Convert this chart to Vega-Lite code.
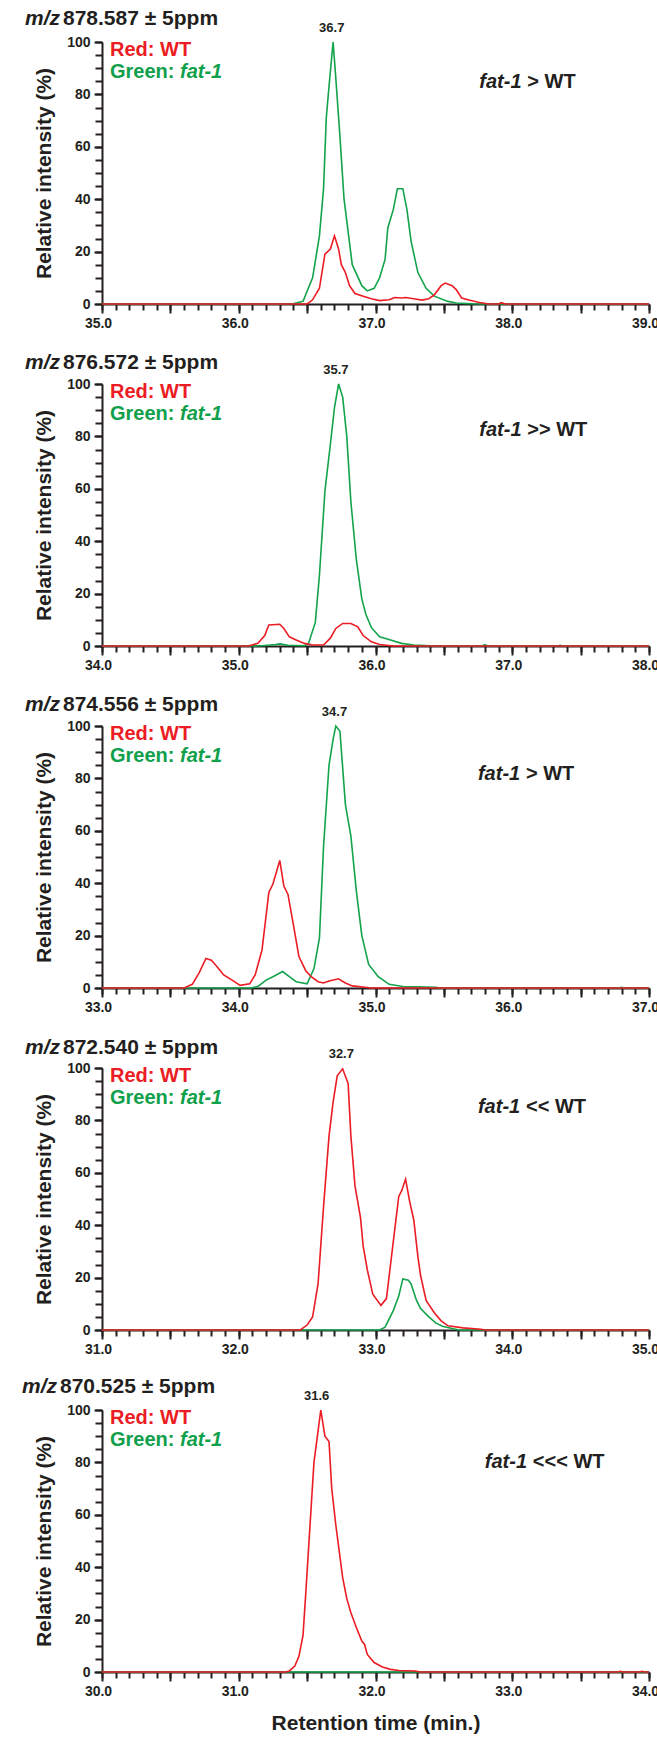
{
  "$schema": "https://vega.github.io/schema/vega-lite/v6.json",
  "padding": {"left": 22, "top": 8, "right": 0, "bottom": 5},
  "background": "white",
  "spacing": 80,
  "bounds": "flush",
  "config": {
    "view": {"stroke": null},
    "text": {"font": "Liberation Sans", "fontWeight": "bold", "fontSize": 20, "baseline": "alphabetic", "align": "left", "color": "#231f20"},
    "axis": {"grid": false, "labelFont": "Liberation Sans", "labelFontWeight": "bold", "labelFontSize": 14, "labelColor": "#231f20", "tickColor": "#231f20", "tickWidth": 2, "domainColor": "#231f20", "domainWidth": 2, "labelOverlap": false, "labelFlush": false, "labelPadding": 3, "titleFont": "Liberation Sans", "titleFontWeight": "bold", "titleFontSize": 21, "titleColor": "#231f20"}
  },
  "datasets": {
    "p1g": [{"rt":35.0,"i":0},{"rt":36.39,"i":0},{"rt":36.47,"i":1},{"rt":36.54,"i":10},{"rt":36.59,"i":26},{"rt":36.62,"i":44},{"rt":36.64,"i":71},{"rt":36.66,"i":83},{"rt":36.69,"i":100},{"rt":36.71,"i":86},{"rt":36.74,"i":64},{"rt":36.77,"i":40},{"rt":36.83,"i":15},{"rt":36.9,"i":7},{"rt":36.94,"i":5},{"rt":36.99,"i":6},{"rt":37.03,"i":10},{"rt":37.07,"i":17},{"rt":37.09,"i":29},{"rt":37.13,"i":36},{"rt":37.16,"i":44},{"rt":37.2,"i":44},{"rt":37.23,"i":36},{"rt":37.26,"i":24},{"rt":37.31,"i":12},{"rt":37.37,"i":6},{"rt":37.43,"i":3},{"rt":37.53,"i":1},{"rt":37.59,"i":0.4},{"rt":37.71,"i":0.1},{"rt":37.8,"i":0},{"rt":39.0,"i":0}],
    "p1r": [{"rt":35.0,"i":0},{"rt":36.5,"i":0},{"rt":36.54,"i":1.6},{"rt":36.59,"i":6},{"rt":36.63,"i":19},{"rt":36.67,"i":21},{"rt":36.7,"i":26},{"rt":36.73,"i":21},{"rt":36.75,"i":15},{"rt":36.78,"i":12},{"rt":36.81,"i":7},{"rt":36.85,"i":4},{"rt":36.91,"i":3},{"rt":36.97,"i":2},{"rt":37.03,"i":1.3},{"rt":37.1,"i":1.6},{"rt":37.14,"i":2.5},{"rt":37.19,"i":2.3},{"rt":37.22,"i":2.5},{"rt":37.28,"i":2},{"rt":37.34,"i":1.5},{"rt":37.39,"i":2},{"rt":37.43,"i":3.5},{"rt":37.48,"i":7},{"rt":37.51,"i":8},{"rt":37.56,"i":7},{"rt":37.59,"i":5.5},{"rt":37.63,"i":2.3},{"rt":37.69,"i":1.4},{"rt":37.76,"i":0.6},{"rt":37.83,"i":0},{"rt":37.9,"i":0},{"rt":37.92,"i":0.5},{"rt":37.95,"i":0},{"rt":39.0,"i":0}],
    "p2g": [{"rt":34.0,"i":0},{"rt":35.07,"i":0},{"rt":35.17,"i":0.1},{"rt":35.27,"i":0.6},{"rt":35.3,"i":0.8},{"rt":35.36,"i":0.3},{"rt":35.48,"i":0.1},{"rt":35.51,"i":1},{"rt":35.56,"i":9},{"rt":35.59,"i":27},{"rt":35.63,"i":59},{"rt":35.67,"i":77},{"rt":35.7,"i":91},{"rt":35.73,"i":100},{"rt":35.76,"i":95},{"rt":35.79,"i":80},{"rt":35.82,"i":55},{"rt":35.86,"i":33},{"rt":35.9,"i":18},{"rt":35.93,"i":12},{"rt":35.97,"i":7},{"rt":36.03,"i":3.5},{"rt":36.11,"i":2.3},{"rt":36.19,"i":1},{"rt":36.28,"i":0.4},{"rt":36.4,"i":0.1},{"rt":36.43,"i":0},{"rt":36.78,"i":0},{"rt":36.8,"i":0.5},{"rt":36.82,"i":0},{"rt":37.33,"i":0},{"rt":37.35,"i":0.3},{"rt":37.37,"i":0},{"rt":38.0,"i":0}],
    "p2r": [{"rt":34.0,"i":0},{"rt":35.07,"i":0},{"rt":35.14,"i":1},{"rt":35.19,"i":4},{"rt":35.22,"i":8},{"rt":35.3,"i":8.3},{"rt":35.33,"i":6.7},{"rt":35.37,"i":3.5},{"rt":35.42,"i":2.3},{"rt":35.48,"i":1},{"rt":35.54,"i":0.4},{"rt":35.62,"i":0.4},{"rt":35.67,"i":3},{"rt":35.71,"i":6.7},{"rt":35.76,"i":8.6},{"rt":35.82,"i":8.6},{"rt":35.87,"i":7.3},{"rt":35.91,"i":4},{"rt":35.97,"i":1.6},{"rt":36.03,"i":0.6},{"rt":36.13,"i":0},{"rt":38.0,"i":0}],
    "p3g": [{"rt":33.0,"i":0},{"rt":34.09,"i":0},{"rt":34.14,"i":0.6},{"rt":34.2,"i":3},{"rt":34.25,"i":4.3},{"rt":34.32,"i":6.3},{"rt":34.37,"i":4.3},{"rt":34.42,"i":2.4},{"rt":34.5,"i":1.6},{"rt":34.55,"i":7.4},{"rt":34.59,"i":19},{"rt":34.62,"i":54},{"rt":34.66,"i":85},{"rt":34.69,"i":95},{"rt":34.71,"i":100},{"rt":34.74,"i":98},{"rt":34.78,"i":70},{"rt":34.82,"i":58},{"rt":34.86,"i":37},{"rt":34.9,"i":20},{"rt":34.95,"i":9},{"rt":35.02,"i":4.3},{"rt":35.1,"i":1.4},{"rt":35.2,"i":0.6},{"rt":35.31,"i":0.5},{"rt":35.44,"i":0.3},{"rt":35.47,"i":0},{"rt":36.78,"i":0},{"rt":36.8,"i":0.3},{"rt":36.82,"i":0},{"rt":37.0,"i":0}],
    "p3r": [{"rt":33.0,"i":0},{"rt":33.6,"i":0},{"rt":33.66,"i":1.4},{"rt":33.71,"i":5.8},{"rt":33.76,"i":11.3},{"rt":33.8,"i":10.6},{"rt":33.84,"i":8.2},{"rt":33.89,"i":5},{"rt":33.96,"i":2.7},{"rt":34.01,"i":1},{"rt":34.08,"i":1.6},{"rt":34.12,"i":5},{"rt":34.17,"i":14.5},{"rt":34.22,"i":36.5},{"rt":34.25,"i":39.7},{"rt":34.3,"i":48.7},{"rt":34.33,"i":38.9},{"rt":34.36,"i":35.7},{"rt":34.4,"i":24},{"rt":34.44,"i":12},{"rt":34.49,"i":6.6},{"rt":34.53,"i":4.3},{"rt":34.58,"i":2.4},{"rt":34.62,"i":1.9},{"rt":34.66,"i":2.7},{"rt":34.73,"i":3.5},{"rt":34.78,"i":1.9},{"rt":34.83,"i":0.8},{"rt":34.94,"i":0.2},{"rt":34.96,"i":0},{"rt":37.0,"i":0}],
    "p4g": [{"rt":31.0,"i":0},{"rt":33.03,"i":0},{"rt":33.07,"i":1.1},{"rt":33.13,"i":7.4},{"rt":33.17,"i":13},{"rt":33.2,"i":19.5},{"rt":33.24,"i":19},{"rt":33.26,"i":17.6},{"rt":33.3,"i":11.3},{"rt":33.33,"i":8.2},{"rt":33.39,"i":5},{"rt":33.44,"i":2.7},{"rt":33.49,"i":1.4},{"rt":33.56,"i":0.6},{"rt":33.61,"i":0},{"rt":35.0,"i":0}],
    "p4r": [{"rt":31.0,"i":0},{"rt":32.45,"i":0},{"rt":32.5,"i":1.9},{"rt":32.54,"i":5},{"rt":32.58,"i":17.6},{"rt":32.62,"i":47},{"rt":32.66,"i":74},{"rt":32.69,"i":87},{"rt":32.72,"i":97},{"rt":32.76,"i":99.7},{"rt":32.8,"i":94},{"rt":32.82,"i":74},{"rt":32.85,"i":55},{"rt":32.89,"i":43},{"rt":32.91,"i":32},{"rt":32.94,"i":23},{"rt":32.98,"i":13.7},{"rt":33.04,"i":9.4},{"rt":33.08,"i":12},{"rt":33.11,"i":25},{"rt":33.14,"i":38},{"rt":33.17,"i":51},{"rt":33.19,"i":53},{"rt":33.22,"i":57.6},{"rt":33.25,"i":49},{"rt":33.28,"i":42},{"rt":33.31,"i":28},{"rt":33.33,"i":20.7},{"rt":33.37,"i":11.3},{"rt":33.43,"i":6.6},{"rt":33.48,"i":3.5},{"rt":33.53,"i":1.6},{"rt":33.64,"i":0.8},{"rt":33.77,"i":0.3},{"rt":33.8,"i":0},{"rt":35.0,"i":0}],
    "p5g": [{"rt":30.0,"i":0},{"rt":34.0,"i":0}],
    "p5r": [{"rt":30.0,"i":0},{"rt":31.34,"i":0},{"rt":31.37,"i":0.4},{"rt":31.41,"i":2.3},{"rt":31.44,"i":6},{"rt":31.47,"i":14},{"rt":31.49,"i":30},{"rt":31.52,"i":55},{"rt":31.55,"i":80},{"rt":31.58,"i":92},{"rt":31.6,"i":100},{"rt":31.63,"i":90},{"rt":31.66,"i":88},{"rt":31.68,"i":70},{"rt":31.71,"i":56},{"rt":31.76,"i":36},{"rt":31.79,"i":28},{"rt":31.82,"i":22.6},{"rt":31.86,"i":17},{"rt":31.9,"i":11.8},{"rt":31.92,"i":10.5},{"rt":31.94,"i":6.7},{"rt":31.99,"i":3.6},{"rt":32.05,"i":1.9},{"rt":32.11,"i":1},{"rt":32.17,"i":0.6},{"rt":32.29,"i":0.4},{"rt":32.33,"i":0},{"rt":33.77,"i":0},{"rt":33.79,"i":0.3},{"rt":33.81,"i":0},{"rt":33.93,"i":0},{"rt":33.95,"i":0.3},{"rt":33.97,"i":0},{"rt":34.0,"i":0}]
  },
  "vconcat": [
    {
      "width": 547, "height": 262,
      "resolve": {"axis": {"x": "independent", "y": "independent"}},
      "layer": [
        {"data": {"name": "p1g"}, "mark": {"type": "line", "color": "#13a34b", "strokeWidth": 1.6, "clip": false},
         "encoding": {
           "x": {"field": "rt", "type": "quantitative", "scale": {"domain": [35, 39], "nice": false, "zero": false},
                 "axis": {"orient": "bottom", "title": null, "tickCount": 40, "labels": false, "tickSize": 6, "domain": true}},
           "y": {"field": "i", "type": "quantitative", "scale": {"domain": [0, 100], "nice": false},
                 "axis": {"orient": "left", "title": null, "tickCount": 20, "labels": false, "tickSize": 7, "domain": true}}
         }},
        {"data": {"name": "p1r"}, "mark": {"type": "line", "color": "#ec1c24", "strokeWidth": 1.6, "clip": false},
         "encoding": {
           "x": {"field": "rt", "type": "quantitative", "axis": {"orient": "bottom", "title": null, "tickCount": 8, "tickSize": 9, "format": ".1f", "labelOffset": -4, "labelExpr": "abs(datum.value-round(datum.value))<0.001 ? datum.label : ''", "domain": false}},
           "y": {"field": "i", "type": "quantitative", "axis": {"orient": "left", "title": "Relative intensity (%)", "titlePadding": 12, "tickCount": 5, "tickSize": 8, "labelPadding": 4, "domain": false}}
         }},
        {"data": {"values": [{}]}, "mark": {"type": "text", "text": "m/z", "fontStyle": "italic", "fontSize": 21, "dx": -77, "dy": -17}, "encoding": {"x": {"datum": 35, "axis": null}, "y": {"datum": 100, "axis": null}}},
        {"data": {"values": [{}]}, "mark": {"type": "text", "text": "878.587 ± 5ppm", "fontSize": 21, "dx": -39, "dy": -17}, "encoding": {"x": {"datum": 35, "axis": null}, "y": {"datum": 100, "axis": null}}},
        {"data": {"values": [{}]}, "mark": {"type": "text", "text": "36.7", "fontSize": 13, "align": "center", "dy": -10}, "encoding": {"x": {"datum": 36.68, "axis": null}, "y": {"datum": 100, "axis": null}}},
        {"data": {"values": [{}]}, "mark": {"type": "text", "text": "Red: WT", "color": "#ec1c24", "dx": 8, "dy": 14}, "encoding": {"x": {"datum": 35, "axis": null}, "y": {"datum": 100, "axis": null}}},
        {"data": {"values": [{}]}, "mark": {"type": "text", "text": "Green:", "color": "#0fa04b", "dx": 8, "dy": 36}, "encoding": {"x": {"datum": 35, "axis": null}, "y": {"datum": 100, "axis": null}}},
        {"data": {"values": [{}]}, "mark": {"type": "text", "text": "fat-1", "fontStyle": "italic", "color": "#0fa04b", "dx": 78, "dy": 36}, "encoding": {"x": {"datum": 35, "axis": null}, "y": {"datum": 100, "axis": null}}},
        {"data": {"values": [{}]}, "mark": {"type": "text", "text": "fat-1", "fontStyle": "italic", "dx": 4}, "encoding": {"x": {"datum": 37.73, "axis": null}, "y": {"datum": 82.4, "axis": null}}},
        {"data": {"values": [{}]}, "mark": {"type": "text", "text": "> WT", "dx": 52}, "encoding": {"x": {"datum": 37.73, "axis": null}, "y": {"datum": 82.4, "axis": null}}}
      ]
    },
    {
      "width": 547, "height": 262,
      "resolve": {"axis": {"x": "independent", "y": "independent"}},
      "layer": [
        {"data": {"name": "p2g"}, "mark": {"type": "line", "color": "#13a34b", "strokeWidth": 1.6, "clip": false},
         "encoding": {
           "x": {"field": "rt", "type": "quantitative", "scale": {"domain": [34, 38], "nice": false, "zero": false},
                 "axis": {"orient": "bottom", "title": null, "tickCount": 40, "labels": false, "tickSize": 6, "domain": true}},
           "y": {"field": "i", "type": "quantitative", "scale": {"domain": [0, 100], "nice": false},
                 "axis": {"orient": "left", "title": null, "tickCount": 20, "labels": false, "tickSize": 7, "domain": true}}
         }},
        {"data": {"name": "p2r"}, "mark": {"type": "line", "color": "#ec1c24", "strokeWidth": 1.6, "clip": false},
         "encoding": {
           "x": {"field": "rt", "type": "quantitative", "axis": {"orient": "bottom", "title": null, "tickCount": 8, "tickSize": 9, "format": ".1f", "labelOffset": -4, "labelExpr": "abs(datum.value-round(datum.value))<0.001 ? datum.label : ''", "domain": false}},
           "y": {"field": "i", "type": "quantitative", "axis": {"orient": "left", "title": "Relative intensity (%)", "titlePadding": 12, "tickCount": 5, "tickSize": 8, "labelPadding": 4, "domain": false}}
         }},
        {"data": {"values": [{}]}, "mark": {"type": "text", "text": "m/z", "fontStyle": "italic", "fontSize": 21, "dx": -77, "dy": -15}, "encoding": {"x": {"datum": 34, "axis": null}, "y": {"datum": 100, "axis": null}}},
        {"data": {"values": [{}]}, "mark": {"type": "text", "text": "876.572 ± 5ppm", "fontSize": 21, "dx": -39, "dy": -15}, "encoding": {"x": {"datum": 34, "axis": null}, "y": {"datum": 100, "axis": null}}},
        {"data": {"values": [{}]}, "mark": {"type": "text", "text": "35.7", "fontSize": 13, "align": "center", "dy": -10}, "encoding": {"x": {"datum": 35.71, "axis": null}, "y": {"datum": 100, "axis": null}}},
        {"data": {"values": [{}]}, "mark": {"type": "text", "text": "Red: WT", "color": "#ec1c24", "dx": 8, "dy": 14}, "encoding": {"x": {"datum": 34, "axis": null}, "y": {"datum": 100, "axis": null}}},
        {"data": {"values": [{}]}, "mark": {"type": "text", "text": "Green:", "color": "#0fa04b", "dx": 8, "dy": 36}, "encoding": {"x": {"datum": 34, "axis": null}, "y": {"datum": 100, "axis": null}}},
        {"data": {"values": [{}]}, "mark": {"type": "text", "text": "fat-1", "fontStyle": "italic", "color": "#0fa04b", "dx": 78, "dy": 36}, "encoding": {"x": {"datum": 34, "axis": null}, "y": {"datum": 100, "axis": null}}},
        {"data": {"values": [{}]}, "mark": {"type": "text", "text": "fat-1", "fontStyle": "italic", "dx": 4}, "encoding": {"x": {"datum": 36.73, "axis": null}, "y": {"datum": 80.2, "axis": null}}},
        {"data": {"values": [{}]}, "mark": {"type": "text", "text": ">> WT", "dx": 52}, "encoding": {"x": {"datum": 36.73, "axis": null}, "y": {"datum": 80.2, "axis": null}}}
      ]
    },
    {
      "width": 547, "height": 262,
      "resolve": {"axis": {"x": "independent", "y": "independent"}},
      "layer": [
        {"data": {"name": "p3g"}, "mark": {"type": "line", "color": "#13a34b", "strokeWidth": 1.6, "clip": false},
         "encoding": {
           "x": {"field": "rt", "type": "quantitative", "scale": {"domain": [33, 37], "nice": false, "zero": false},
                 "axis": {"orient": "bottom", "title": null, "tickCount": 40, "labels": false, "tickSize": 6, "domain": true}},
           "y": {"field": "i", "type": "quantitative", "scale": {"domain": [0, 100], "nice": false},
                 "axis": {"orient": "left", "title": null, "tickCount": 20, "labels": false, "tickSize": 7, "domain": true}}
         }},
        {"data": {"name": "p3r"}, "mark": {"type": "line", "color": "#ec1c24", "strokeWidth": 1.6, "clip": false},
         "encoding": {
           "x": {"field": "rt", "type": "quantitative", "axis": {"orient": "bottom", "title": null, "tickCount": 8, "tickSize": 9, "format": ".1f", "labelOffset": -4, "labelExpr": "abs(datum.value-round(datum.value))<0.001 ? datum.label : ''", "domain": false}},
           "y": {"field": "i", "type": "quantitative", "axis": {"orient": "left", "title": "Relative intensity (%)", "titlePadding": 12, "tickCount": 5, "tickSize": 8, "labelPadding": 4, "domain": false}}
         }},
        {"data": {"values": [{}]}, "mark": {"type": "text", "text": "m/z", "fontStyle": "italic", "fontSize": 21, "dx": -77, "dy": -15}, "encoding": {"x": {"datum": 33, "axis": null}, "y": {"datum": 100, "axis": null}}},
        {"data": {"values": [{}]}, "mark": {"type": "text", "text": "874.556 ± 5ppm", "fontSize": 21, "dx": -39, "dy": -15}, "encoding": {"x": {"datum": 33, "axis": null}, "y": {"datum": 100, "axis": null}}},
        {"data": {"values": [{}]}, "mark": {"type": "text", "text": "34.7", "fontSize": 13, "align": "center", "dy": -10}, "encoding": {"x": {"datum": 34.7, "axis": null}, "y": {"datum": 100, "axis": null}}},
        {"data": {"values": [{}]}, "mark": {"type": "text", "text": "Red: WT", "color": "#ec1c24", "dx": 8, "dy": 14}, "encoding": {"x": {"datum": 33, "axis": null}, "y": {"datum": 100, "axis": null}}},
        {"data": {"values": [{}]}, "mark": {"type": "text", "text": "Green:", "color": "#0fa04b", "dx": 8, "dy": 36}, "encoding": {"x": {"datum": 33, "axis": null}, "y": {"datum": 100, "axis": null}}},
        {"data": {"values": [{}]}, "mark": {"type": "text", "text": "fat-1", "fontStyle": "italic", "color": "#0fa04b", "dx": 78, "dy": 36}, "encoding": {"x": {"datum": 33, "axis": null}, "y": {"datum": 100, "axis": null}}},
        {"data": {"values": [{}]}, "mark": {"type": "text", "text": "fat-1", "fontStyle": "italic", "dx": 4}, "encoding": {"x": {"datum": 35.72, "axis": null}, "y": {"datum": 79.4, "axis": null}}},
        {"data": {"values": [{}]}, "mark": {"type": "text", "text": "> WT", "dx": 52}, "encoding": {"x": {"datum": 35.72, "axis": null}, "y": {"datum": 79.4, "axis": null}}}
      ]
    },
    {
      "width": 547, "height": 262,
      "resolve": {"axis": {"x": "independent", "y": "independent"}},
      "layer": [
        {"data": {"name": "p4g"}, "mark": {"type": "line", "color": "#13a34b", "strokeWidth": 1.6, "clip": false},
         "encoding": {
           "x": {"field": "rt", "type": "quantitative", "scale": {"domain": [31, 35], "nice": false, "zero": false},
                 "axis": {"orient": "bottom", "title": null, "tickCount": 40, "labels": false, "tickSize": 6, "domain": true}},
           "y": {"field": "i", "type": "quantitative", "scale": {"domain": [0, 100], "nice": false},
                 "axis": {"orient": "left", "title": null, "tickCount": 20, "labels": false, "tickSize": 7, "domain": true}}
         }},
        {"data": {"name": "p4r"}, "mark": {"type": "line", "color": "#ec1c24", "strokeWidth": 1.6, "clip": false},
         "encoding": {
           "x": {"field": "rt", "type": "quantitative", "axis": {"orient": "bottom", "title": null, "tickCount": 8, "tickSize": 9, "format": ".1f", "labelOffset": -4, "labelExpr": "abs(datum.value-round(datum.value))<0.001 ? datum.label : ''", "domain": false}},
           "y": {"field": "i", "type": "quantitative", "axis": {"orient": "left", "title": "Relative intensity (%)", "titlePadding": 12, "tickCount": 5, "tickSize": 8, "labelPadding": 4, "domain": false}}
         }},
        {"data": {"values": [{}]}, "mark": {"type": "text", "text": "m/z", "fontStyle": "italic", "fontSize": 21, "dx": -77, "dy": -14}, "encoding": {"x": {"datum": 31, "axis": null}, "y": {"datum": 100, "axis": null}}},
        {"data": {"values": [{}]}, "mark": {"type": "text", "text": "872.540 ± 5ppm", "fontSize": 21, "dx": -39, "dy": -14}, "encoding": {"x": {"datum": 31, "axis": null}, "y": {"datum": 100, "axis": null}}},
        {"data": {"values": [{}]}, "mark": {"type": "text", "text": "32.7", "fontSize": 13, "align": "center", "dy": -10}, "encoding": {"x": {"datum": 32.75, "axis": null}, "y": {"datum": 100, "axis": null}}},
        {"data": {"values": [{}]}, "mark": {"type": "text", "text": "Red: WT", "color": "#ec1c24", "dx": 8, "dy": 14}, "encoding": {"x": {"datum": 31, "axis": null}, "y": {"datum": 100, "axis": null}}},
        {"data": {"values": [{}]}, "mark": {"type": "text", "text": "Green:", "color": "#0fa04b", "dx": 8, "dy": 36}, "encoding": {"x": {"datum": 31, "axis": null}, "y": {"datum": 100, "axis": null}}},
        {"data": {"values": [{}]}, "mark": {"type": "text", "text": "fat-1", "fontStyle": "italic", "color": "#0fa04b", "dx": 78, "dy": 36}, "encoding": {"x": {"datum": 31, "axis": null}, "y": {"datum": 100, "axis": null}}},
        {"data": {"values": [{}]}, "mark": {"type": "text", "text": "fat-1", "fontStyle": "italic", "dx": 4}, "encoding": {"x": {"datum": 33.72, "axis": null}, "y": {"datum": 82.8, "axis": null}}},
        {"data": {"values": [{}]}, "mark": {"type": "text", "text": "<< WT", "dx": 52}, "encoding": {"x": {"datum": 33.72, "axis": null}, "y": {"datum": 82.8, "axis": null}}}
      ]
    },
    {
      "width": 547, "height": 262,
      "resolve": {"axis": {"x": "independent", "y": "independent"}},
      "layer": [
        {"data": {"name": "p5g"}, "mark": {"type": "line", "color": "#13a34b", "strokeWidth": 1.6, "clip": false},
         "encoding": {
           "x": {"field": "rt", "type": "quantitative", "scale": {"domain": [30, 34], "nice": false, "zero": false},
                 "axis": {"orient": "bottom", "title": null, "tickCount": 40, "labels": false, "tickSize": 6, "domain": true}},
           "y": {"field": "i", "type": "quantitative", "scale": {"domain": [0, 100], "nice": false},
                 "axis": {"orient": "left", "title": null, "tickCount": 20, "labels": false, "tickSize": 7, "domain": true}}
         }},
        {"data": {"name": "p5r"}, "mark": {"type": "line", "color": "#ec1c24", "strokeWidth": 1.6, "clip": false},
         "encoding": {
           "x": {"field": "rt", "type": "quantitative", "axis": {"orient": "bottom", "title": "Retention time (min.)", "titlePadding": 14, "tickCount": 8, "tickSize": 9, "format": ".1f", "labelOffset": -4, "labelExpr": "abs(datum.value-round(datum.value))<0.001 ? datum.label : ''", "domain": false}},
           "y": {"field": "i", "type": "quantitative", "axis": {"orient": "left", "title": "Relative intensity (%)", "titlePadding": 12, "tickCount": 5, "tickSize": 8, "labelPadding": 4, "domain": false}}
         }},
        {"data": {"values": [{}]}, "mark": {"type": "text", "text": "m/z", "fontStyle": "italic", "fontSize": 21, "dx": -80, "dy": -17}, "encoding": {"x": {"datum": 30, "axis": null}, "y": {"datum": 100, "axis": null}}},
        {"data": {"values": [{}]}, "mark": {"type": "text", "text": "870.525 ± 5ppm", "fontSize": 21, "dx": -42, "dy": -17}, "encoding": {"x": {"datum": 30, "axis": null}, "y": {"datum": 100, "axis": null}}},
        {"data": {"values": [{}]}, "mark": {"type": "text", "text": "31.6", "fontSize": 13, "align": "center", "dy": -10}, "encoding": {"x": {"datum": 31.57, "axis": null}, "y": {"datum": 100, "axis": null}}},
        {"data": {"values": [{}]}, "mark": {"type": "text", "text": "Red: WT", "color": "#ec1c24", "dx": 8, "dy": 14}, "encoding": {"x": {"datum": 30, "axis": null}, "y": {"datum": 100, "axis": null}}},
        {"data": {"values": [{}]}, "mark": {"type": "text", "text": "Green:", "color": "#0fa04b", "dx": 8, "dy": 36}, "encoding": {"x": {"datum": 30, "axis": null}, "y": {"datum": 100, "axis": null}}},
        {"data": {"values": [{}]}, "mark": {"type": "text", "text": "fat-1", "fontStyle": "italic", "color": "#0fa04b", "dx": 78, "dy": 36}, "encoding": {"x": {"datum": 30, "axis": null}, "y": {"datum": 100, "axis": null}}},
        {"data": {"values": [{}]}, "mark": {"type": "text", "text": "fat-1", "fontStyle": "italic", "dx": 4}, "encoding": {"x": {"datum": 32.77, "axis": null}, "y": {"datum": 77.9, "axis": null}}},
        {"data": {"values": [{}]}, "mark": {"type": "text", "text": "<<< WT", "dx": 52}, "encoding": {"x": {"datum": 32.77, "axis": null}, "y": {"datum": 77.9, "axis": null}}}
      ]
    }
  ]
}
